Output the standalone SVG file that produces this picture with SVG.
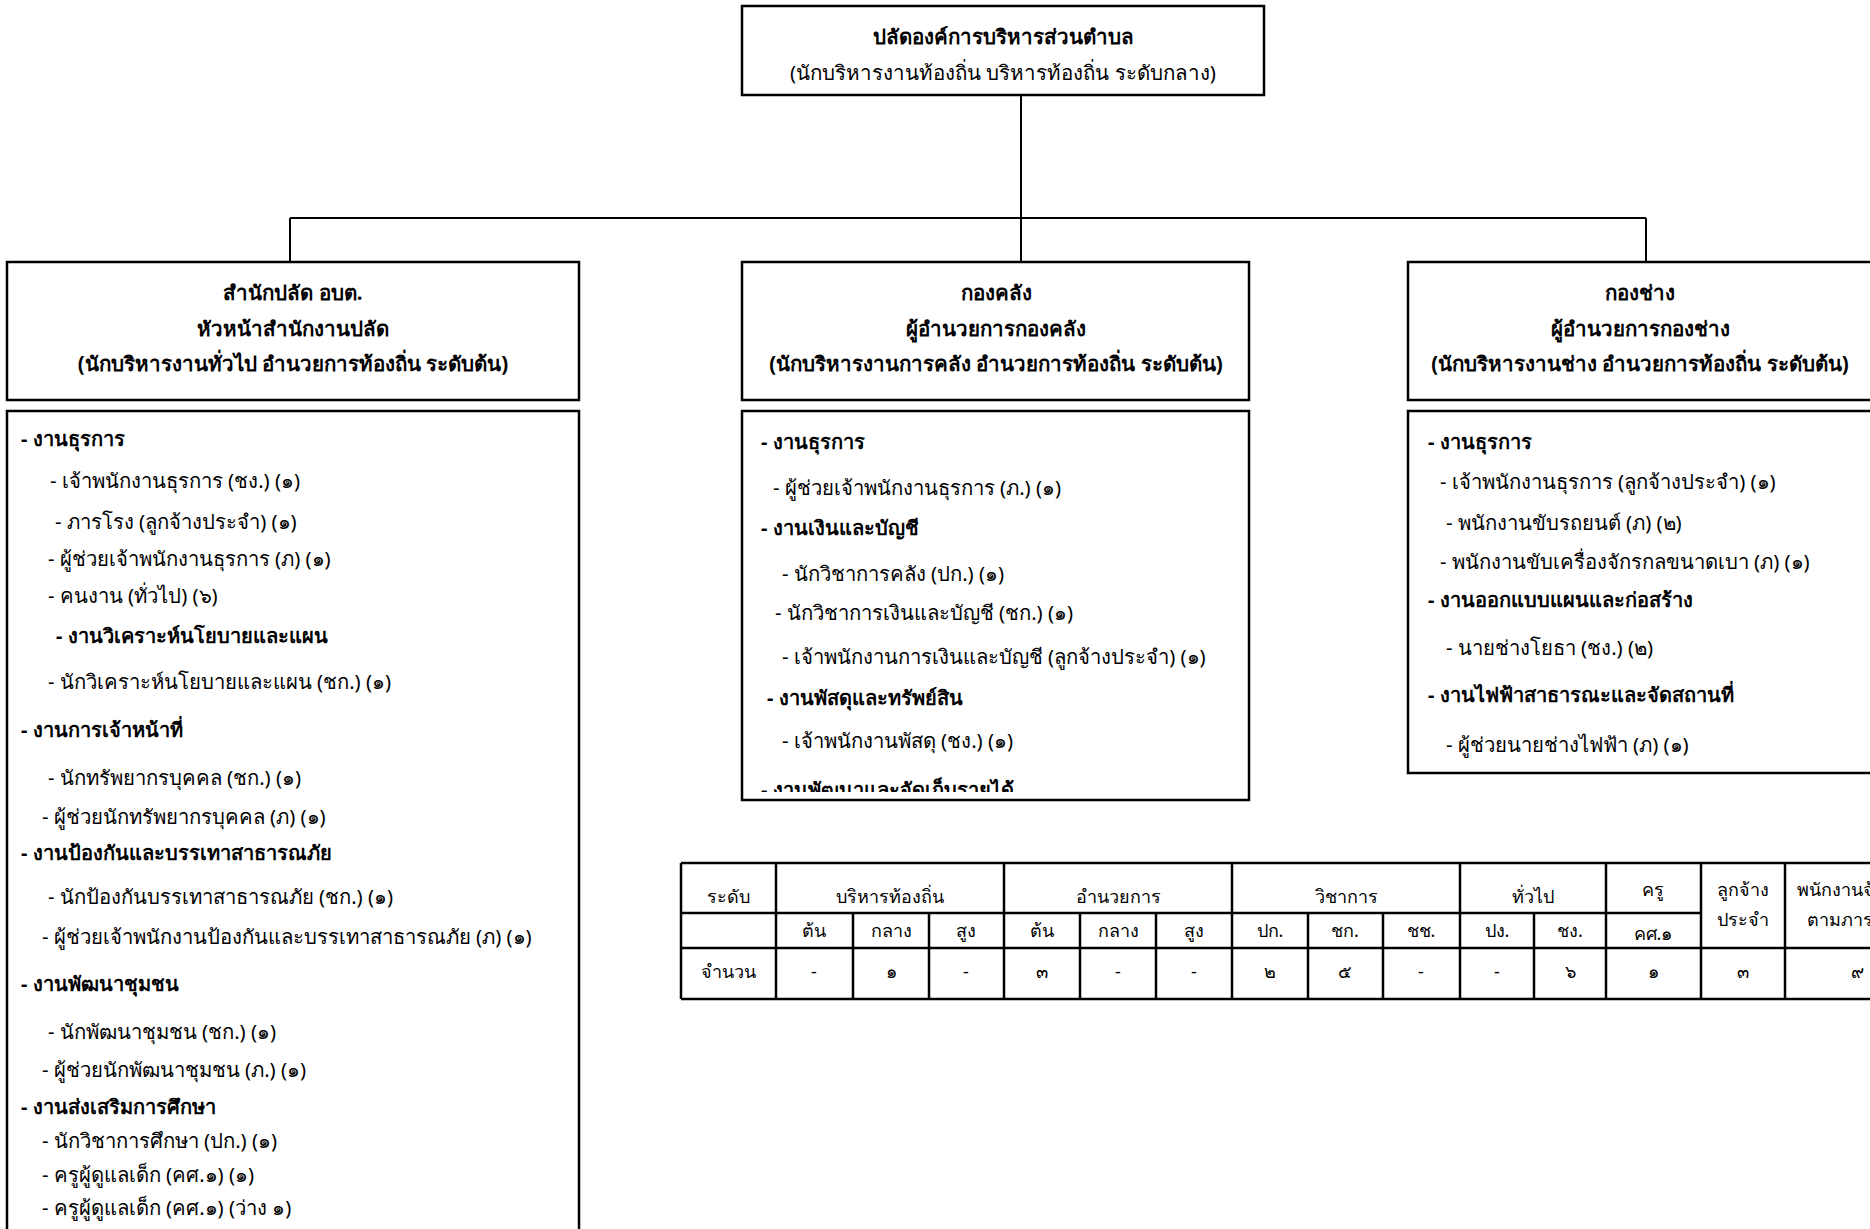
<svg xmlns="http://www.w3.org/2000/svg" width="1870" height="1229" viewBox="0 0 1870 1229">
  <style>
    .box { fill: #ffffff; stroke: #000000; stroke-width: 2.5; }
    .wire { fill: none; stroke: #000000; stroke-width: 2; }
    .t { font-family: "Noto Sans", "DejaVu Sans", sans-serif; fill: #000000; }
    .hd { font-size: 20.5px; font-weight: bold; text-anchor: middle; }
    .hr { font-size: 20.5px; text-anchor: middle; }
    .b { font-size: 20px; font-weight: bold; }
    .r { font-size: 20.3px; }
    .tb { font-size: 18px; text-anchor: middle; }
    .grid { fill: none; stroke: #000000; stroke-width: 2.5; }
  </style>
  <defs>
    <clipPath id="clipMid"><rect x="742" y="411" width="507" height="381"/></clipPath>
  </defs>
  <rect width="1870" height="1229" fill="#ffffff"/>

  <!-- connectors -->
  <g id="connectors">
    <line class="wire" x1="1021" y1="95" x2="1021" y2="262"/>
    <line class="wire" x1="290" y1="218" x2="1646" y2="218"/>
    <line class="wire" x1="290" y1="218" x2="290" y2="262"/>
    <line class="wire" x1="1646" y1="218" x2="1646" y2="262"/>
  </g>

  <!-- top node -->
  <g id="node-chief">
    <rect class="box" x="742" y="6" width="522" height="89"/>
    <text class="t hd" x="1003" y="44">ปลัดองค์การบริหารส่วนตำบล</text>
    <text class="t hr" x="1003" y="80">(นักบริหารงานท้องถิ่น บริหารท้องถิ่น ระดับกลาง)</text>
  </g>

  <!-- office of the chief administrator -->
  <g id="node-office">
    <rect class="box" x="7" y="262" width="572" height="138"/>
    <text class="t hd" x="293" y="300">สำนักปลัด อบต.</text>
    <text class="t hd" x="293" y="336">หัวหน้าสำนักงานปลัด</text>
    <text class="t hd" x="293" y="371">(นักบริหารงานทั่วไป อำนวยการท้องถิ่น ระดับต้น)</text>
  </g>
  <g id="node-office-units">
    <rect class="box" x="7" y="411" width="572" height="830"/>
    <text class="t b" x="21" y="446">- งานธุรการ</text>
    <text class="t r" x="50" y="488">- เจ้าพนักงานธุรการ (ชง.) (๑)</text>
    <text class="t r" x="55" y="529">- ภารโรง (ลูกจ้างประจำ) (๑)</text>
    <text class="t r" x="48" y="566">- ผู้ช่วยเจ้าพนักงานธุรการ (ภ) (๑)</text>
    <text class="t r" x="48" y="603">- คนงาน (ทั่วไป) (๖)</text>
    <text class="t b" x="56" y="643">- งานวิเคราะห์นโยบายและแผน</text>
    <text class="t r" x="48" y="689">- นักวิเคราะห์นโยบายและแผน (ชก.) (๑)</text>
    <text class="t b" x="21" y="737">- งานการเจ้าหน้าที่</text>
    <text class="t r" x="48" y="785">- นักทรัพยากรบุคคล (ชก.) (๑)</text>
    <text class="t r" x="42" y="824">- ผู้ช่วยนักทรัพยากรบุคคล (ภ) (๑)</text>
    <text class="t b" x="21" y="860">- งานป้องกันและบรรเทาสาธารณภัย</text>
    <text class="t r" x="48" y="904">- นักป้องกันบรรเทาสาธารณภัย (ชก.) (๑)</text>
    <text class="t r" x="42" y="944">- ผู้ช่วยเจ้าพนักงานป้องกันและบรรเทาสาธารณภัย (ภ) (๑)</text>
    <text class="t b" x="21" y="991">- งานพัฒนาชุมชน</text>
    <text class="t r" x="48" y="1039">- นักพัฒนาชุมชน (ชก.) (๑)</text>
    <text class="t r" x="42" y="1077">- ผู้ช่วยนักพัฒนาชุมชน (ภ.) (๑)</text>
    <text class="t b" x="21" y="1114">- งานส่งเสริมการศึกษา</text>
    <text class="t r" x="42" y="1148">- นักวิชาการศึกษา (ปก.) (๑)</text>
    <text class="t r" x="42" y="1182">- ครูผู้ดูแลเด็ก (คศ.๑) (๑)</text>
    <text class="t r" x="42" y="1215">- ครูผู้ดูแลเด็ก (คศ.๑) (ว่าง ๑)</text>
  </g>

  <!-- finance division -->
  <g id="node-finance">
    <rect class="box" x="742" y="262" width="507" height="138"/>
    <text class="t hd" x="996" y="300">กองคลัง</text>
    <text class="t hd" x="996" y="336">ผู้อำนวยการกองคลัง</text>
    <text class="t hd" x="996" y="371">(นักบริหารงานการคลัง อำนวยการท้องถิ่น ระดับต้น)</text>
  </g>
  <g id="node-finance-units">
    <rect class="box" x="742" y="411" width="507" height="389"/>
    <g clip-path="url(#clipMid)">
      <text class="t b" x="761" y="449">- งานธุรการ</text>
      <text class="t r" x="773" y="495">- ผู้ช่วยเจ้าพนักงานธุรการ (ภ.) (๑)</text>
      <text class="t b" x="761" y="535">- งานเงินและบัญชี</text>
      <text class="t r" x="782" y="581">- นักวิชาการคลัง (ปก.) (๑)</text>
      <text class="t r" x="775" y="620">- นักวิชาการเงินและบัญชี (ชก.) (๑)</text>
      <text class="t r" x="782" y="664">- เจ้าพนักงานการเงินและบัญชี (ลูกจ้างประจำ) (๑)</text>
      <text class="t b" x="767" y="705">- งานพัสดุและทรัพย์สิน</text>
      <text class="t r" x="782" y="748">- เจ้าพนักงานพัสดุ (ชง.) (๑)</text>
      <text class="t b" x="761" y="797">- งานพัฒนาและจัดเก็บรายได้</text>
    </g>
  </g>

  <!-- engineering division -->
  <g id="node-works">
    <rect class="box" x="1408" y="262" width="480" height="138"/>
    <text class="t hd" x="1640" y="300">กองช่าง</text>
    <text class="t hd" x="1640" y="336">ผู้อำนวยการกองช่าง</text>
    <text class="t hd" x="1640" y="371">(นักบริหารงานช่าง อำนวยการท้องถิ่น ระดับต้น)</text>
  </g>
  <g id="node-works-units">
    <rect class="box" x="1408" y="411" width="480" height="362"/>
    <text class="t b" x="1428" y="449">- งานธุรการ</text>
    <text class="t r" x="1440" y="489">- เจ้าพนักงานธุรการ (ลูกจ้างประจำ) (๑)</text>
    <text class="t r" x="1446" y="530">- พนักงานขับรถยนต์ (ภ) (๒)</text>
    <text class="t r" x="1440" y="569">- พนักงานขับเครื่องจักรกลขนาดเบา (ภ) (๑)</text>
    <text class="t b" x="1428" y="607">- งานออกแบบแผนและก่อสร้าง</text>
    <text class="t r" x="1446" y="655">- นายช่างโยธา (ชง.) (๒)</text>
    <text class="t b" x="1428" y="702">- งานไฟฟ้าสาธารณะและจัดสถานที่</text>
    <text class="t r" x="1446" y="752">- ผู้ช่วยนายช่างไฟฟ้า (ภ) (๑)</text>
  </g>

  <!-- staffing summary table -->
  <g id="staff-table">
    <path class="grid" d="M681,863 H1880 M681,913 H1701 M681,948 H1880 M681,999 H1880
      M681,863 V999 M776,863 V999 M1004,863 V999 M1232,863 V999 M1460,863 V999 M1606,863 V999 M1701,863 V999 M1785,863 V999
      M853,913 V999 M929,913 V999 M1080,913 V999 M1156,913 V999 M1308,913 V999 M1383,913 V999 M1534,913 V999"/>
    <g class="t tb">
      <text x="728" y="903">ระดับ</text>
      <text x="890" y="903">บริหารท้องถิ่น</text>
      <text x="1118" y="903">อำนวยการ</text>
      <text x="1346" y="903">วิชาการ</text>
      <text x="1533" y="903">ทั่วไป</text>
      <text x="1653" y="896">ครู</text>
      <text x="1743" y="896">ลูกจ้าง</text>
      <text x="1743" y="926">ประจำ</text>
      <text x="1797" y="896" text-anchor="start">พนักงานจ้าง</text>
      <text x="1807" y="926" text-anchor="start">ตามภารกิจ</text>

      <text x="814" y="937">ต้น</text>
      <text x="891" y="937">กลาง</text>
      <text x="966" y="937">สูง</text>
      <text x="1042" y="937">ต้น</text>
      <text x="1118" y="937">กลาง</text>
      <text x="1194" y="937">สูง</text>
      <text x="1270" y="937">ปก.</text>
      <text x="1345" y="937">ชก.</text>
      <text x="1421" y="937">ชช.</text>
      <text x="1497" y="937">ปง.</text>
      <text x="1570" y="937">ชง.</text>
      <text x="1653" y="940">คศ.๑</text>

      <text x="728" y="978">จำนวน</text>
      <text x="814" y="978">-</text>
      <text x="891" y="978">๑</text>
      <text x="966" y="978">-</text>
      <text x="1042" y="978">๓</text>
      <text x="1118" y="978">-</text>
      <text x="1194" y="978">-</text>
      <text x="1270" y="978">๒</text>
      <text x="1345" y="978">๕</text>
      <text x="1421" y="978">-</text>
      <text x="1497" y="978">-</text>
      <text x="1570" y="978">๖</text>
      <text x="1653" y="978">๑</text>
      <text x="1743" y="978">๓</text>
      <text x="1857" y="978">๙</text>
    </g>
  </g>
</svg>
